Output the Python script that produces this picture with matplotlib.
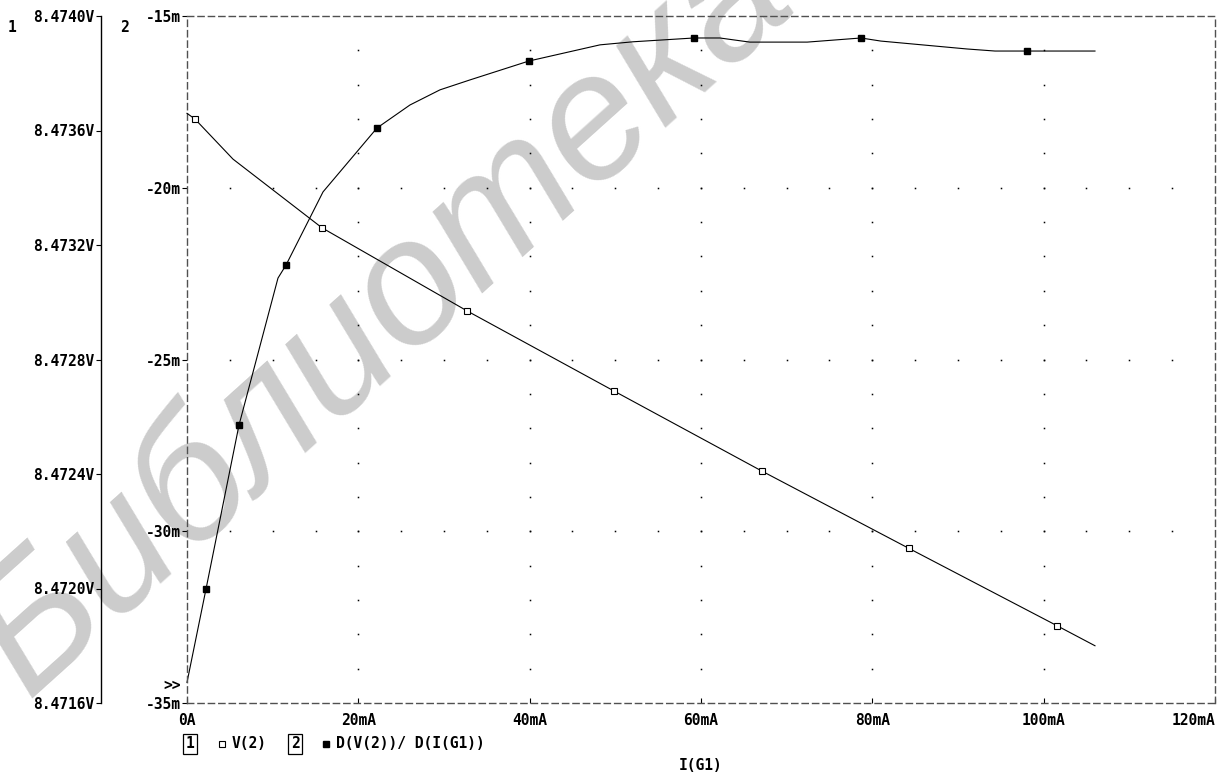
import numpy as np
import matplotlib.pyplot as plt
from matplotlib.lines import Line2D

# V(2) on axis 1, volts  (x in mA)
v2_x = [0.0, 0.93, 5.37, 15.76, 32.68, 49.84, 67.12, 84.28, 101.56, 105.99]
v2_y = [8.47366, 8.47364, 8.47350, 8.47326, 8.47297, 8.47269, 8.47241, 8.47214, 8.47187, 8.47180]
v2_marks = [1, 3, 4, 5, 6, 7, 8]

# D(V(2))/D(I(G1)) on axis 2, milli-units
d_x = [0.0, 2.22, 6.07, 10.62, 11.56, 15.88, 22.18, 26.03, 29.53, 33.04, 39.92, 48.21, 52.1,
       59.18, 62.2, 65.7, 72.4, 78.68, 81.0, 91.05, 94.32, 98.05, 105.99]
d_y = [-34.4, -31.68, -26.91, -22.63, -22.25, -20.12, -18.26, -17.59, -17.15, -16.86, -16.31, -15.84, -15.75,
       -15.64, -15.64, -15.76, -15.76, -15.64, -15.73, -15.96, -16.02, -16.02, -16.02]
d_marks = [1, 2, 4, 6, 10, 13, 17, 21]

x_ticks = [0, 20, 40, 60, 80, 100, 120]
x_labels = ["0A", "20mA", "40mA", "60mA", "80mA", "100mA", "120mA"]
y1_ticks = [8.4716, 8.4720, 8.4724, 8.4728, 8.4732, 8.4736, 8.4740]
y1_labels = ["8.4716V", "8.4720V", "8.4724V", "8.4728V", "8.4732V", "8.4736V", "8.4740V"]
y2_ticks = [-35, -30, -25, -20, -15]
y2_labels = ["-35m", "-30m", "-25m", "-20m", "-15m"]

mono = dict(family="DejaVu Sans Mono", weight="bold", size=10.5)

fig = plt.figure(figsize=(12.25, 7.72), dpi=100)
fig.patch.set_facecolor("white")

# watermark behind everything
fig.text(0.312, 0.59, "Библиотека", rotation=42, fontsize=128, style="italic",
         family="Liberation Sans", color="#cccccc", ha="center", va="center", zorder=-1)

ax = fig.add_axes([187 / 1225, 1 - 703 / 772, 1028 / 1225, 687 / 772])
ax.patch.set_visible(False)
ax.set_xlim(0, 120)
ax.set_ylim(-35, -15)

dash = (0, (4.5, 3))
for side in ["left", "right", "top", "bottom"]:
    ax.spines[side].set_linestyle(dash)
    ax.spines[side].set_color("#505050")
    ax.spines[side].set_linewidth(1.0)

ax.set_xticks(x_ticks)
ax.set_xticklabels(x_labels, **mono)
ax.get_xticklabels()[-1].set_horizontalalignment("right")
ax.set_yticks(y2_ticks)
ax.set_yticklabels(y2_labels, **mono)
ax.tick_params(axis="x", direction="in", length=3.5, width=0.8, pad=7)
ax.tick_params(axis="y", direction="out", length=3.6, width=0.8, pad=1)

# dotted grid
for xv in x_ticks[1:-1]:
    yy = np.arange(-34, -15)
    ax.plot(np.full(len(yy), xv), yy, ls="none", marker="s", ms=1.1, mew=0, color="black")
for yv in y2_ticks[1:-1]:
    xx = np.arange(5, 120, 5)
    ax.plot(xx, np.full(len(xx), yv), ls="none", marker="s", ms=1.1, mew=0, color="black")

ax.plot(d_x, d_y, color="black", lw=0.8, marker="s", ms=5, mfc="black", mec="black",
        markevery=d_marks, clip_on=False)

ax1 = ax.twinx()
ax1.patch.set_visible(False)
ax1.set_ylim(8.4716, 8.4740)
for side in ["right", "top", "bottom"]:
    ax1.spines[side].set_visible(False)
ax1.spines["left"].set_visible(True)
ax1.spines["left"].set_position(("outward", 62))
ax1.spines["left"].set_linewidth(1.0)
ax1.yaxis.tick_left()
ax1.set_yticks(y1_ticks)
ax1.set_yticklabels(y1_labels, **mono)
ax1.tick_params(axis="y", direction="out", length=3.6, width=0.8, pad=1)

ax1.plot(v2_x, v2_y, color="black", lw=0.8, marker="s", ms=5, mfc="white", mec="black",
         mew=0.8, markevery=v2_marks, clip_on=False)

# axis numbers and overflow mark
fig.text(12 / 1225, 1 - 27 / 772, "1", ha="center", va="center", **mono)
fig.text(124 / 1225, 1 - 27 / 772, "2", ha="center", va="center", **mono)
fig.text(181 / 1225, 1 - 685 / 772, ">>", ha="right", va="center", **mono)

# legend row
ly = 1 - 744 / 772
box = dict(boxstyle="square,pad=0.15", fc="white", ec="black", lw=0.9)
fig.text(190 / 1225, ly, "1", ha="center", va="center", bbox=box, **mono)
fig.add_artist(Line2D([222 / 1225], [ly], transform=fig.transFigure, marker="s", ms=4.5,
                      mfc="white", mec="black", mew=0.8, ls="none"))
fig.text(232 / 1225, ly, "V(2)", ha="left", va="center", **mono)
fig.text(295 / 1225, ly, "2", ha="center", va="center", bbox=box, **mono)
fig.add_artist(Line2D([326 / 1225], [ly], transform=fig.transFigure, marker="s", ms=4.5,
                      mfc="black", mec="black", ls="none"))
fig.text(336 / 1225, ly, "D(V(2))/ D(I(G1))", ha="left", va="center", **mono)

fig.text(701 / 1225, 1 - 765 / 772, "I(G1)", ha="center", va="center", **mono)

fig.savefig("out.png", dpi=100, facecolor="white")
